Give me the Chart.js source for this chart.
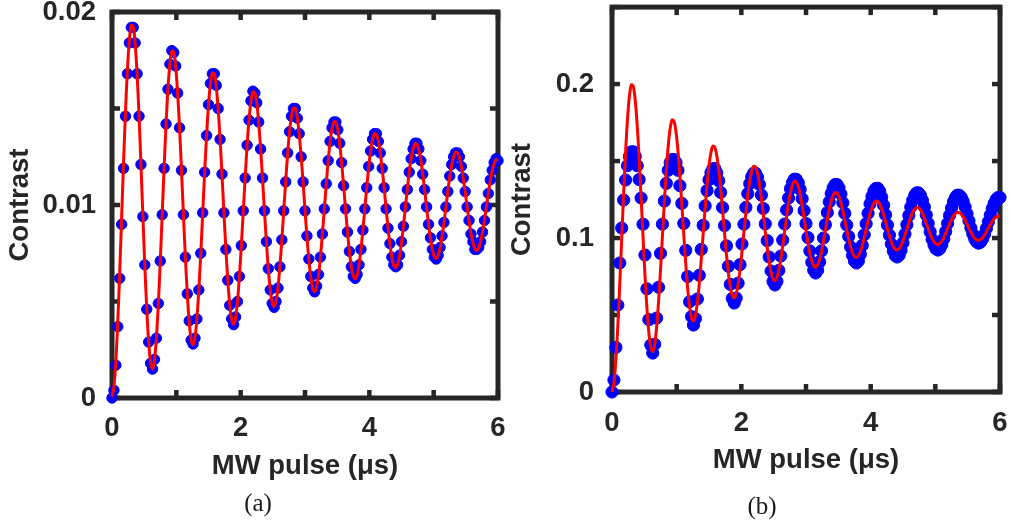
<!DOCTYPE html>
<html>
<head>
<meta charset="utf-8">
<script src="https://cdn.jsdelivr.net/npm/chart.js@4/dist/chart.umd.min.js"></script>
<style>
  html, body { margin: 0; padding: 0; background: #fff; }
  #wrap { position: relative; width: 1012px; height: 522px; overflow: hidden; }
  canvas { position: absolute; top: 0; }
  #chartA { left: 0; }
  #chartB { left: 506px; }
  .cap {
    position: absolute;
    font-family: 'Liberation Serif', 'DejaVu Serif', serif;
    font-size: 25px;
    color: #1a1a1a;
    transform: translate(-50%, -50%);
  }
</style>
</head>
<body>
<div id="wrap">
  <canvas id="chartA" width="506" height="522"></canvas>
  <canvas id="chartB" width="506" height="522"></canvas>
  <div class="cap" style="left:258px; top:503px">(a)</div>
  <div class="cap" style="left:762px; top:506px">(b)</div>
</div>
<script>
// MW pulse length (us), same sampling in both panels
const pulseUs = [
  0,0.03,0.06,0.09,0.12,0.15,0.18,0.21,0.24,0.27,0.3,0.33,0.36,0.39,0.42,0.45,0.48,0.51,0.54,0.57,0.6,
  0.63,0.66,0.69,0.72,0.75,0.78,0.81,0.84,0.87,0.9,0.93,0.96,0.99,1.02,1.05,1.08,1.11,1.14,1.17,1.2,1.23,
  1.26,1.29,1.32,1.35,1.38,1.41,1.44,1.47,1.5,1.53,1.56,1.59,1.62,1.65,1.68,1.71,1.74,1.77,1.8,1.83,1.86,
  1.89,1.92,1.95,1.98,2.01,2.04,2.07,2.1,2.13,2.16,2.19,2.22,2.25,2.28,2.31,2.34,2.37,2.4,2.43,2.46,2.49,
  2.52,2.55,2.58,2.61,2.64,2.67,2.7,2.73,2.76,2.79,2.82,2.85,2.88,2.91,2.94,2.97,3,3.03,3.06,3.09,3.12,
  3.15,3.18,3.21,3.24,3.27,3.3,3.33,3.36,3.39,3.42,3.45,3.48,3.51,3.54,3.57,3.6,3.63,3.66,3.69,3.72,3.75,
  3.78,3.81,3.84,3.87,3.9,3.93,3.96,3.99,4.02,4.05,4.08,4.11,4.14,4.17,4.2,4.23,4.26,4.29,4.32,4.35,4.38,
  4.41,4.44,4.47,4.5,4.53,4.56,4.59,4.62,4.65,4.68,4.71,4.74,4.77,4.8,4.83,4.86,4.89,4.92,4.95,4.98,5.01,
  5.04,5.07,5.1,5.13,5.16,5.19,5.22,5.25,5.28,5.31,5.34,5.37,5.4,5.43,5.46,5.49,5.52,5.55,5.58,5.61,5.64,
  5.67,5.7,5.73,5.76,5.79,5.82,5.85,5.88,5.91,5.94,5.97,6
];

// panel (a): measured contrast
const contrastA = [
  0.0000,0.0004,0.0017,0.0037,0.0062,0.0090,0.0119,0.0146,0.0168,0.0184,0.0192,0.0192,0.0184,0.0168,0.0146,0.0121,0.0094,0.0069,0.0046,0.0029,0.0018,
  0.0015,0.0020,0.0031,0.0049,0.0071,0.0095,0.0119,0.0142,0.0160,0.0173,0.0180,0.0179,0.0172,0.0158,0.0140,0.0118,0.0095,0.0073,0.0054,0.0040,0.0030,
  0.0028,0.0031,0.0041,0.0056,0.0075,0.0096,0.0117,0.0136,0.0152,0.0163,0.0168,0.0168,0.0162,0.0150,0.0134,0.0116,0.0096,0.0077,0.0061,0.0048,0.0041,
  0.0038,0.0042,0.0050,0.0063,0.0079,0.0097,0.0114,0.0131,0.0144,0.0154,0.0159,0.0158,0.0153,0.0143,0.0129,0.0114,0.0097,0.0081,0.0067,0.0056,0.0049,
  0.0047,0.0050,0.0057,0.0068,0.0082,0.0097,0.0112,0.0127,0.0138,0.0146,0.0150,0.0150,0.0145,0.0137,0.0125,0.0112,0.0097,0.0084,0.0072,0.0063,0.0057,
  0.0055,0.0058,0.0064,0.0073,0.0085,0.0098,0.0111,0.0123,0.0133,0.0140,0.0143,0.0143,0.0139,0.0132,0.0122,0.0110,0.0098,0.0086,0.0076,0.0068,0.0063,
  0.0062,0.0064,0.0069,0.0077,0.0087,0.0098,0.0109,0.0120,0.0128,0.0134,0.0137,0.0137,0.0133,0.0127,0.0119,0.0109,0.0098,0.0088,0.0080,0.0073,0.0069,
  0.0068,0.0069,0.0074,0.0081,0.0089,0.0099,0.0108,0.0117,0.0124,0.0129,0.0132,0.0132,0.0129,0.0123,0.0116,0.0108,0.0099,0.0090,0.0083,0.0077,0.0073,
  0.0072,0.0074,0.0078,0.0084,0.0091,0.0099,0.0107,0.0115,0.0121,0.0125,0.0127,0.0127,0.0125,0.0120,0.0114,0.0107,0.0099,0.0092,0.0085,0.0081,0.0077,
  0.0077,0.0078,0.0081,0.0086,0.0092,0.0099,0.0106,0.0113,0.0118,0.0122,0.0124,0.0123
];

// panel (a): fit curve
const fitA = [
  0.00006,0.00058,0.00193,0.00398,0.00654,0.00938,0.01224,0.01486,0.01703,0.01856,0.01931,0.01925,0.01837,0.01678,0.01462,0.01210,0.00943,0.00687,0.00463,0.00290,0.00184,
  0.00152,0.00196,0.00311,0.00487,0.00706,0.00948,0.01193,0.01417,0.01603,0.01733,0.01798,0.01792,0.01717,0.01581,0.01397,0.01181,0.00953,0.00734,0.00542,0.00395,0.00304,
  0.00276,0.00314,0.00413,0.00563,0.00750,0.00957,0.01166,0.01358,0.01517,0.01628,0.01684,0.01679,0.01615,0.01498,0.01341,0.01156,0.00961,0.00774,0.00610,0.00484,0.00406,
  0.00383,0.00415,0.00499,0.00627,0.00788,0.00965,0.01143,0.01308,0.01443,0.01539,0.01586,0.01581,0.01527,0.01427,0.01293,0.01135,0.00968,0.00808,0.00668,0.00560,0.00494,
  0.00474,0.00501,0.00573,0.00683,0.00820,0.00971,0.01124,0.01265,0.01380,0.01462,0.01502,0.01499,0.01452,0.01367,0.01252,0.01117,0.00974,0.00837,0.00718,0.00625,0.00569,
  0.00551,0.00575,0.00637,0.00730,0.00847,0.00977,0.01108,0.01228,0.01327,0.01396,0.01431,0.01428,0.01388,0.01315,0.01217,0.01101,0.00980,0.00862,0.00760,0.00681,0.00633,
  0.00618,0.00638,0.00691,0.00771,0.00871,0.00982,0.01093,0.01196,0.01281,0.01340,0.01370,0.01367,0.01333,0.01271,0.01187,0.01088,0.00984,0.00884,0.00796,0.00729,0.00687,
  0.00675,0.00692,0.00737,0.00806,0.00891,0.00986,0.01081,0.01169,0.01242,0.01292,0.01318,0.01315,0.01286,0.01233,0.01161,0.01077,0.00988,0.00902,0.00827,0.00770,0.00734,
  0.00723,0.00738,0.00777,0.00835,0.00908,0.00989,0.01071,0.01146,0.01208,0.01251,0.01273,0.01271,0.01246,0.01201,0.01139,0.01067,0.00991,0.00918,0.00854,0.00805,0.00774,
  0.00765,0.00778,0.00811,0.00861,0.00923,0.00992,0.01062,0.01126,0.01179,0.01216,0.01235,0.01233
];

// panel (b): measured contrast
const contrastB = [
  0.0000,0.0078,0.0290,0.0565,0.0838,0.1065,0.1247,0.1377,0.1470,0.1530,0.1560,0.1560,0.1530,0.1470,0.1380,0.1260,0.1090,0.0890,0.0670,0.0470,0.0305,
  0.0253,0.0310,0.0480,0.0680,0.0900,0.1090,0.1240,0.1355,0.1440,0.1490,0.1510,0.1510,0.1490,0.1440,0.1340,0.1225,0.1095,0.0920,0.0750,0.0586,0.0490,
  0.0435,0.0477,0.0604,0.0758,0.0926,0.1083,0.1209,0.1308,0.1379,0.1425,0.1450,0.1451,0.1423,0.1372,0.1296,0.1198,0.1081,0.0949,0.0817,0.0699,0.0608,
  0.0578,0.0610,0.0707,0.0827,0.0961,0.1090,0.1199,0.1288,0.1353,0.1398,0.1421,0.1421,0.1396,0.1348,0.1279,0.1192,0.1092,0.0983,0.0877,0.0786,0.0718,
  0.0695,0.0719,0.0790,0.0883,0.0987,0.1091,0.1183,0.1260,0.1320,0.1360,0.1382,0.1381,0.1359,0.1316,0.1255,0.1179,0.1094,0.1003,0.0916,0.0843,0.0791,
  0.0773,0.0791,0.0845,0.0917,0.1000,0.1087,0.1166,0.1235,0.1289,0.1327,0.1347,0.1347,0.1326,0.1286,0.1229,0.1160,0.1085,0.1010,0.0942,0.0887,0.0850,
  0.0838,0.0852,0.0894,0.0952,0.1021,0.1093,0.1161,0.1222,0.1270,0.1305,0.1322,0.1323,0.1303,0.1265,0.1213,0.1151,0.1084,0.1019,0.0961,0.0916,0.0887,
  0.0877,0.0888,0.0921,0.0969,0.1026,0.1087,0.1147,0.1201,0.1245,0.1276,0.1293,0.1293,0.1277,0.1245,0.1202,0.1150,0.1095,0.1040,0.0992,0.0954,0.0930,
  0.0922,0.0931,0.0956,0.0995,0.1042,0.1095,0.1147,0.1195,0.1235,0.1263,0.1278,0.1278,0.1265,0.1238,0.1202,0.1158,0.1112,0.1066,0.1026,0.0994,0.0974,
  0.0967,0.0974,0.0993,0.1023,0.1062,0.1105,0.1149,0.1191,0.1225,0.1250,0.1263,0.1263
];

// panel (b): fit curve
const fitB = [
  0.0000,0.0061,0.0209,0.0429,0.0700,0.0995,0.1290,0.1557,0.1774,0.1924,0.1995,0.1983,0.1890,0.1729,0.1513,0.1265,0.1006,0.0759,0.0546,0.0385,0.0289,
  0.0263,0.0309,0.0421,0.0587,0.0791,0.1014,0.1236,0.1437,0.1601,0.1714,0.1767,0.1758,0.1689,0.1567,0.1404,0.1217,0.1021,0.0836,0.0675,0.0554,0.0481,
  0.0462,0.0497,0.0581,0.0706,0.0859,0.1028,0.1195,0.1347,0.1470,0.1556,0.1596,0.1589,0.1536,0.1444,0.1322,0.1181,0.1033,0.0893,0.0772,0.0681,0.0626,
  0.0611,0.0638,0.0701,0.0795,0.0911,0.1038,0.1164,0.1279,0.1372,0.1436,0.1466,0.1461,0.1422,0.1352,0.1260,0.1153,0.1042,0.0937,0.0846,0.0777,0.0735,
  0.0724,0.0744,0.0792,0.0863,0.0950,0.1046,0.1141,0.1227,0.1298,0.1346,0.1369,0.1365,0.1335,0.1283,0.1213,0.1133,0.1049,0.0970,0.0901,0.0849,0.0818,
  0.0809,0.0824,0.0860,0.0914,0.0980,0.1052,0.1124,0.1189,0.1242,0.1278,0.1295,0.1292,0.1270,0.1230,0.1178,0.1117,0.1054,0.0994,0.0943,0.0903,0.0880,
  0.0874,0.0885,0.0912,0.0952,0.1002,0.1056,0.1110,0.1159,0.1199,0.1227,0.1240,0.1238,0.1221,0.1191,0.1151,0.1106,0.1058,0.1013,0.0974,0.0944,0.0927,
  0.0922,0.0930,0.0951,0.0981,0.1019,0.1060,0.1100,0.1137,0.1168,0.1188,0.1198,0.1196,0.1184,0.1161,0.1131,0.1097,0.1061,0.1027,0.0998,0.0975,0.0962,
  0.0958,0.0965,0.0980,0.1003,0.1031,0.1062,0.1093,0.1121,0.1144,0.1159,0.1167,0.1165,0.1156,0.1139,0.1116,0.1090,0.1063,0.1038,0.1015,0.0999,0.0988,
  0.0986,0.0991,0.1002,0.1020,0.1041,0.1064,0.1087,0.1108,0.1125,0.1137,0.1143,0.1142
];

const AXIS_COLOR = '#262626';
const LABEL_FONT = { family: "'Liberation Sans', Arial, sans-serif", size: 27.5, weight: 'bold' };

// thick box + inward ticks on all four sides (matlab style)
const frameBox = {
  id: 'frameBox',
  beforeDatasetsDraw(chart) {
    const { ctx, chartArea: a, scales: { x, y } } = chart;
    const len = 8, w = 4.5;
    ctx.save();
    ctx.strokeStyle = AXIS_COLOR;
    ctx.fillStyle = AXIS_COLOR;
    ctx.lineWidth = 5;
    ctx.strokeRect(a.left, a.top, a.right - a.left, a.bottom - a.top);
    x.ticks.forEach(t => {
      const px = x.getPixelForValue(t.value);
      ctx.fillRect(px - w / 2, a.bottom - len, w, len);
      ctx.fillRect(px - w / 2, a.top, w, len);
    });
    y.ticks.forEach(t => {
      const py = y.getPixelForValue(t.value);
      ctx.fillRect(a.left, py - w / 2, len, w);
      ctx.fillRect(a.right - len, py - w / 2, len, w);
    });
    ctx.restore();
  }
};

function toPoints(xs, ys) {
  return xs.map((x, i) => ({ x: x, y: ys[i] }));
}

function makePanel(id, dots, fit, cfg) {
  return new Chart(document.getElementById(id), {
    type: 'scatter',
    data: {
      datasets: [
        {
          type: 'line',
          data: toPoints(pulseUs, fit),
          borderColor: '#ff0000',
          borderWidth: 3,
          pointRadius: 0,
          tension: 0.35,
          fill: false,
          clip: false
        },
        {
          data: toPoints(pulseUs, dots),
          backgroundColor: '#0000ff',
          borderColor: '#0000ff',
          borderWidth: 1,
          pointRadius: cfg.dotRadius,
          clip: false
        }
      ]
    },
    options: {
      responsive: false,
      animation: false,
      devicePixelRatio: 1,
      events: [],
      layout: { padding: cfg.padding },
      plugins: { legend: { display: false }, tooltip: { enabled: false } },
      scales: {
        x: {
          type: 'linear',
          min: 0,
          max: 6,
          grid: { display: false, drawTicks: false },
          border: { display: false },
          ticks: {
            stepSize: 1,
            autoSkip: false,
            maxRotation: 0,
            padding: cfg.xPad,
            color: AXIS_COLOR,
            font: LABEL_FONT,
            callback: v => (v % 2 === 0 ? String(v) : '')
          },
          title: { display: true, text: 'MW pulse (μs)', color: AXIS_COLOR, font: LABEL_FONT, padding: { top: 0, bottom: 0 } },
          afterFit: s => { s.height = 85; s.paddingLeft = 0; s.paddingRight = 0; }
        },
        y: {
          min: 0,
          max: cfg.yMax,
          grid: { display: false, drawTicks: false },
          border: { display: false },
          ticks: {
            stepSize: cfg.yStep,
            autoSkip: false,
            padding: cfg.yPad,
            color: AXIS_COLOR,
            font: LABEL_FONT,
            callback: v => {
              const r = v / cfg.yLabelEvery;
              return Math.abs(r - Math.round(r)) < 1e-6 ? String(+v.toFixed(cfg.digits)) : '';
            }
          },
          title: { display: true, text: 'Contrast', color: AXIS_COLOR, font: LABEL_FONT, padding: { top: cfg.titlePad, bottom: 0 } },
          afterFit: s => { s.width = cfg.yWidth; s.paddingTop = 0; s.paddingBottom = 0; }
        }
      }
    },
    plugins: [frameBox]
  });
}

makePanel('chartA', contrastA, fitA, {
  dotRadius: 5.2,
  padding: { left: 0, right: 8, top: 12, bottom: 39 },
  xPad: 14,
  yMax: 0.02, yStep: 0.005, yLabelEvery: 0.01, digits: 2,
  yPad: 16, yWidth: 112, titlePad: 4
});

makePanel('chartB', contrastB, fitB, {
  dotRadius: 6.1,
  padding: { left: 0, right: 12, top: 7, bottom: 45 },
  xPad: 15,
  yMax: 0.25, yStep: 0.05, yLabelEvery: 0.1, digits: 1,
  yPad: 18, yWidth: 106, titlePad: 0
});
</script>
</body>
</html>
